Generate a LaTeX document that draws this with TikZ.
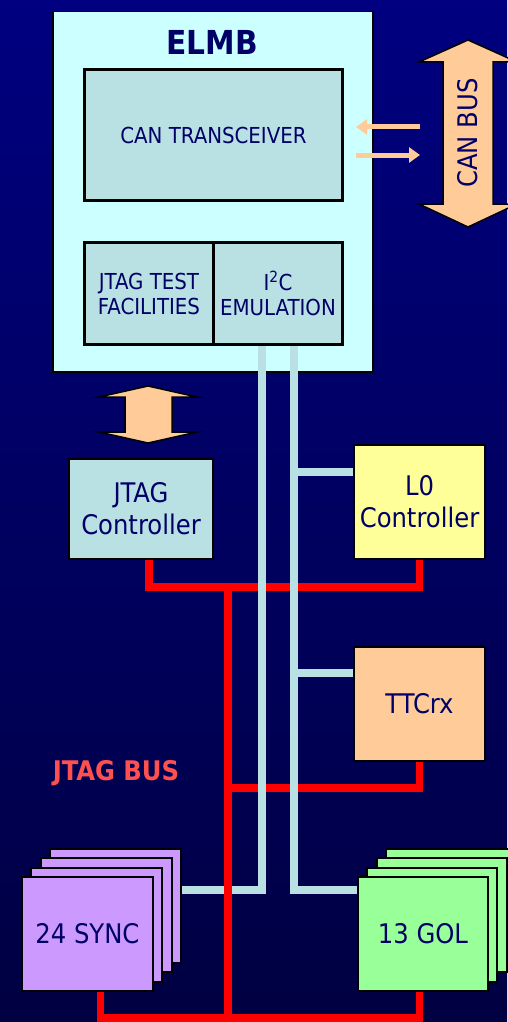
\documentclass[tikz,border=0pt]{standalone}
\usepackage{fontspec}
\setmainfont{DejaVu Sans Condensed}
\usetikzlibrary{arrows.meta,calc}
\definecolor{bgtop}{HTML}{000080}
\definecolor{bgbottom}{HTML}{000042}
\definecolor{elmbcyan}{HTML}{CCFFFF}
\definecolor{chipteal}{HTML}{B9E0E3}
\definecolor{peach}{HTML}{FFCC99}
\definecolor{lzyellow}{HTML}{FFFF99}
\definecolor{syncpurple}{HTML}{CC99FF}
\definecolor{golgreen}{HTML}{99FF99}
\definecolor{inknavy}{HTML}{000066}
\definecolor{jtagred}{HTML}{FF5050}

\begin{document}
\begin{tikzpicture}[
    x=1pt, y=-1pt,
    every node/.style={text=inknavy, align=center, inner sep=0pt},
    block/.style={draw=black, line width=2pt, anchor=north west, font=\fontsize{27}{32}\selectfont},
    elmbpart/.style={block, line width=3pt, fill=chipteal, font=\fontsize{22}{25}\selectfont},
    bigarrow/.style={draw=black, line width=1.5pt, fill=peach},
    jtagwire/.style={draw=red, line width=7.5pt},
    i2cwire/.style={draw=chipteal, line width=7.5pt},
    canwire/.style={draw=peach, line width=5pt, -{Triangle[length=11pt,width=15pt]}}
]
\useasboundingbox (0,0) rectangle (507,1022);
\fill[top color=bgtop, bottom color=bgbottom] (0,0) rectangle (507,1022);

% ELMB board
\node[block, line width=1.5pt, fill=elmbcyan, minimum width=320pt, minimum height=360pt] (elmb) at (52,11) {};
\node[font=\bfseries\fontsize{33}{36}\selectfont] (elmbtitle) at (212,42) {ELMB};
\node[elmbpart, minimum width=258pt, minimum height=131pt] (cantrx) at (83,68) {CAN TRANSCEIVER};
\node[elmbpart, minimum width=129pt, minimum height=102pt] (jtagtest) at (83,241) {JTAG TEST\\FACILITIES};
\node[elmbpart, minimum width=129pt, minimum height=102pt] (i2c) at (212,241) {I\textsuperscript{2}C\\EMULATION};

% CAN bus
\draw[bigarrow] (468,40) -- (517,62) -- (493,62) -- (493,204) -- (517,204) -- (468,227)
    -- (419,204) -- (443,204) -- (443,62) -- (419,62) -- cycle;
\node[rotate=90, font=\fontsize{27}{32}\selectfont] (canbus) at (468,133) {CAN BUS};
\coordinate (rxout) at (420,127);
\coordinate (rxin) at (356,127);
\coordinate (txout) at (356,155);
\coordinate (txin) at (420,155);
\draw[canwire] (rxout) -- (rxin);
\draw[canwire] (txout) -- (txin);

% ELMB <-> JTAG controller
\draw[bigarrow] (148,386) -- (197,397) -- (172,397) -- (172,432) -- (197,432) -- (148,443)
    -- (99,432) -- (125,432) -- (125,397) -- (99,397) -- cycle;

% controllers
\node[block, fill=chipteal, minimum width=144pt, minimum height=100pt] (jtagctl) at (68,458) {JTAG\\Controller};
\node[block, fill=lzyellow, minimum width=131pt, minimum height=114pt] (l0) at (353,444) {L0\\Controller};
\node[block, fill=peach, minimum width=131pt, minimum height=114pt] (ttcrx) at (353,646) {TTCrx};

% front-end chips
\foreach \k in {3,2,1} {
    \node[block, fill=syncpurple, minimum width=131pt, minimum height=114pt] (sync\k) at ($(21,876)+(9.3*\k,-9.3*\k)$) {};
    \node[block, fill=golgreen, minimum width=130pt, minimum height=114pt] (gol\k) at ($(357,876)+(9.3*\k,-9.3*\k)$) {};
}
\node[block, fill=syncpurple, minimum width=131pt, minimum height=114pt] (sync) at (21,876) {24 SYNC};
\node[block, fill=golgreen, minimum width=130pt, minimum height=114pt] (gol) at (357,876) {13 GOL};

\node[text=jtagred, font=\bfseries\fontsize{27}{32}\selectfont] (jtagbus) at (116,773) {JTAG BUS};

% JTAG bus
\coordinate (bus1) at (228,587);
\coordinate (bus2) at (228,788);
\coordinate (bus3) at (228,1018);
\coordinate (jtagout) at ($(jtagctl.south)+(8,0)$);
\coordinate (syncout) at ($(sync.south)+(13,0)$);
\draw[jtagwire] (jtagout) |- (bus1) -| (l0.south);
\draw[jtagwire] (ttcrx.south) |- (bus2);
\draw[jtagwire] (syncout) |- (bus3) -| (gol.south -| l0.south);

% I2C lines
\coordinate (sclL) at ($(i2c.south)+(-16,0)$);
\coordinate (sclR) at ($(i2c.south)+(16,0)$);
\coordinate (l0in) at ($(l0.north west)+(0,28)$);
\coordinate (ttcin) at ($(ttcrx.north west)+(0,27)$);
\draw[i2cwire] (sclL) |- ($(sync3.north east)+(0,42)$);
\draw[i2cwire] (sclR) |- ($(gol.north west)+(0,14)$);
\draw[i2cwire] (sclR |- l0in) -- (l0in);
\draw[i2cwire] (sclR |- ttcin) -- (ttcin);

\draw[jtagwire] (bus1) -- (bus3);
\end{tikzpicture}
\end{document}
